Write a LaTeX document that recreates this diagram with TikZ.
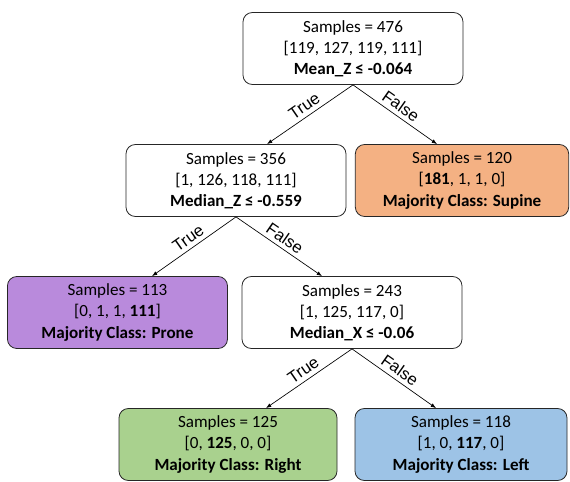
\documentclass[tikz,border=0pt]{standalone}
\usepackage{fontspec}
\setmainfont{Carlito}
\newfontfamily\labelfont{Liberation Sans}
\usepackage[]{tikz}
\usetikzlibrary{positioning,calc}
\usetikzlibrary{arrows.meta}
\definecolor{supinefill}{HTML}{F4B183}
\definecolor{pronefill}{HTML}{B98ADC}
\definecolor{rightfill}{HTML}{A9D18E}
\definecolor{leftfill}{HTML}{9DC3E6}
\tikzset{tree node/.style={rectangle,rounded corners=7pt,draw=black!85,line width=0.6pt,fill=white,
    minimum width=165pt,minimum height=54pt,inner sep=0pt,align=center,
    font=\fontsize{12.8}{15.8}\selectfont},
  branch label/.style={sloped,above,inner sep=3pt,font=\labelfont\fontsize{12.5}{15}\selectfont}}

\begin{document}
\begin{tikzpicture}[x=0.75pt,y=0.75pt,>={Latex[length=4pt,width=3pt]},on grid]
      \useasboundingbox (0,0) rectangle (570,-481);
      \node[tree node] (1) at (353,-48.5) {Samples = 476\\{}[119, 127, 119, 111]\\ \textbf{Mean\_Z ≤ -0.064}};
      \node[tree node] (2) [below left = 99pt and 87.75pt of 1] {Samples = 356\\{}[1, 126, 118, 111]\\ \textbf{Median\_Z ≤ -0.559}};
      \node[tree node,fill=supinefill,minimum width=160pt] (3) [below right = 99pt and 81.75pt of 1] {Samples = 120\\{}[\textbf{181}, 1, 1, 0]\\ \textbf{Majority Class: Supine}};
      \node[tree node,fill=pronefill] (4) [below left = 99pt and 88.9pt of 2] {Samples = 113\\{}[0, 1, 1, \textbf{111}]\\ \textbf{Majority Class: Prone}};
      \node[tree node] (5) [below right = 99pt and 87pt of 2] {Samples = 243\\{}[1, 125, 117, 0]\\ \textbf{Median\_X ≤ -0.06}};
      \node[tree node,fill=rightfill,minimum width=163.5pt] (6) [below left = 99pt and 93pt of 5] {Samples = 125\\{}[0, \textbf{125}, 0, 0]\\ \textbf{Majority Class: Right}};
      \node[tree node,fill=leftfill,minimum width=159pt] (7) [below right = 99pt and 81.75pt of 5] {Samples = 118\\{}[1, 0, \textbf{117}, 0]\\ \textbf{Majority Class: Left}};
      \draw[->,line width=0.5pt] (1.south) -- node[branch label] {True} ([xshift=-64.5pt]1.south |- 2.north);
      \draw[->,line width=0.5pt] (1.south) -- node[branch label] {False} ([xshift=63pt]1.south |- 3.north);
      \draw[->,line width=0.5pt] (2.south) -- node[branch label] {True} ([xshift=-63pt]2.south |- 4.north);
      \draw[->,line width=0.5pt] (2.south) -- node[branch label] {False} ([xshift=64.5pt]2.south |- 5.north);
      \draw[->,line width=0.5pt] (5.south) -- node[branch label] {True} ([xshift=-64.5pt]5.south |- 6.north);
      \draw[->,line width=0.5pt] (5.south) -- node[branch label] {False} ([xshift=63pt]5.south |- 7.north);
    \end{tikzpicture}
\end{document}
